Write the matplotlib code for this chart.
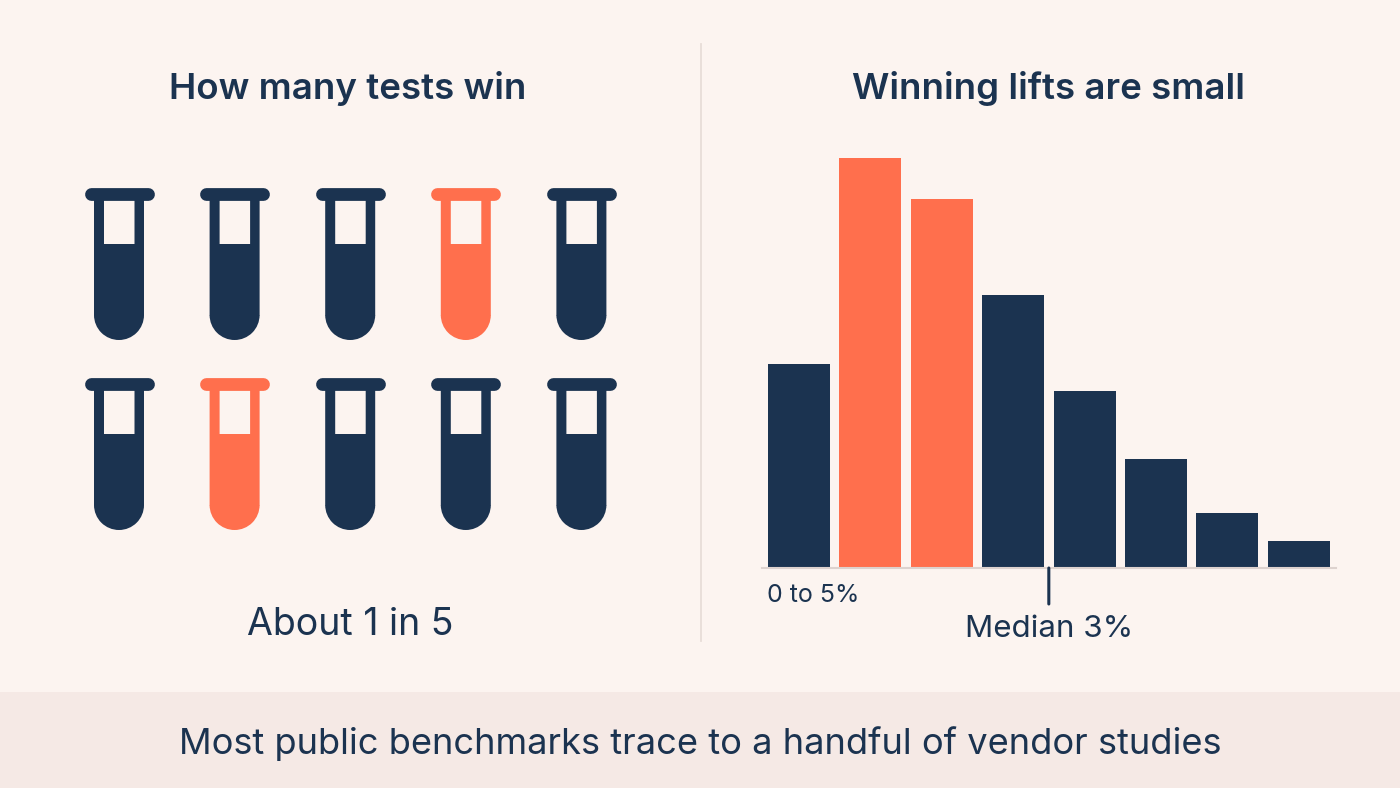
import matplotlib.pyplot as plt
from matplotlib.patches import Rectangle, Wedge

plt.rcParams['font.family'] = ['Inter', 'DejaVu Sans']

BG = '#FCF4F0'
BAND = '#F5E9E5'
RULE = '#E8DDD8'
NAVY = '#1B3350'
ORANGE = '#FF6F4D'

# tests, row by row; 1 = winner
test_rows = [[0, 0, 0, 1, 0],
             [0, 1, 0, 0, 0]]

# lift histogram, one bin per bar
lift_bins = ['0-5', '5-10', '10-15', '15-20', '20-25', '25-30', '30-35', '35-40']
lift_heights = [204, 410, 369, 273, 177, 109, 55, 27]
lift_winner = [0, 1, 1, 0, 0, 0, 0, 0]
median_pos = 3.5

left_title = 'How many tests win'
right_title = 'Winning lifts are small'
left_note = 'About 1 in 5'
first_bin_label = '0 to 5%'
median_label = 'Median 3%'
footer = 'Most public benchmarks trace to a handful of vendor studies'

fig = plt.figure(figsize=(14, 7.88), dpi=100, facecolor=BG)

# page axes in pixels, y going down
page = fig.add_axes([0, 0, 1, 1])
page.set_xlim(0, 1400)
page.set_ylim(788, 0)
page.axis('off')

page.add_patch(Rectangle((0, 692), 1400, 96, color=BAND, lw=0))
page.plot([700.5, 700.5], [44, 641], color=RULE, lw=1.3)


def draw_tube(ax, cx, top, color):
    # body, round bottom, white window, rim
    ax.add_patch(Rectangle((cx - 25, top + 8), 50, 120.5, color=color, lw=0, snap=False))
    ax.add_patch(Wedge((cx, top + 128), 25, 0, 180, color=color, lw=0))
    ax.add_patch(Rectangle((cx - 15, top + 12), 30.5, 45, color=BG, lw=0, snap=False))
    ax.plot([cx - 28.5, cx + 28.5], [top + 6.5, top + 6.5], color=color, lw=9.2,
            solid_capstyle='round')


col_step = 115.6
for r, row in enumerate(test_rows):
    for c, won in enumerate(row):
        draw_tube(page, 119 + c * col_step, 187 + r * 190,
                  ORANGE if won else NAVY)

page.text(347.5, 88, left_title, fontsize=26.4, fontweight='semibold',
          color=NAVY, ha='center', va='center')
page.text(1049, 88, right_title, fontsize=26.4, fontweight='semibold',
          color=NAVY, ha='center', va='center')
page.text(350, 625, left_note, fontsize=27, color=NAVY, ha='center', va='center')
page.text(700, 744, footer, fontsize=26.1, color=NAVY, ha='center', va='center')

# histogram
bars = fig.add_axes([762 / 1400, 1 - 568 / 788, 574 / 1400, 450 / 788])
bars.patch.set_alpha(0)
xs = list(range(len(lift_heights)))
bars.bar(xs, lift_heights, width=0.868,
         color=[ORANGE if w else NAVY for w in lift_winner])
bars.set_xlim(-0.515, 7.52)
bars.set_ylim(0, 450)
bars.set_yticks([])
bars.set_xticks([])
for side in ['top', 'left', 'right']:
    bars.spines[side].set_visible(False)
bars.spines['bottom'].set_color('#DDD2CE')
bars.spines['bottom'].set_linewidth(1.5)

bars.annotate('', xy=(median_pos, 0), xytext=(median_pos, -36),
              annotation_clip=False,
              arrowprops=dict(arrowstyle='-', color=NAVY, lw=2.2,
                              shrinkA=0, shrinkB=0))

page.text(813, 595, first_bin_label, fontsize=18, color=NAVY, ha='center', va='center')
page.text(1049, 629, median_label, fontsize=22.5, color=NAVY, ha='center', va='center')

fig.savefig('out.png', dpi=100, facecolor=BG)
